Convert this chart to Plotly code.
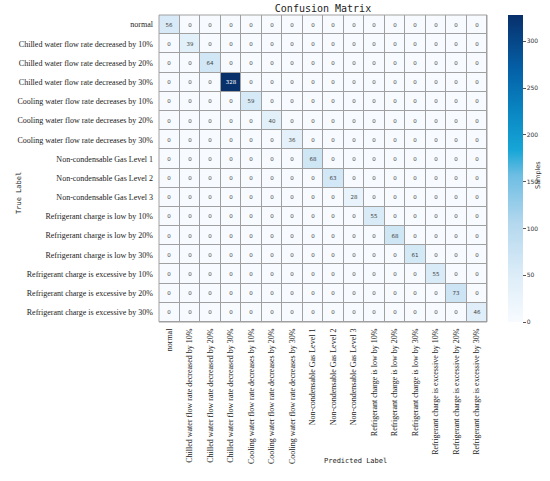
import numpy as np
import plotly.graph_objects as go

# class names (rows = true label, columns = predicted label)
classes = [
    "normal",
    "Chilled water flow rate decreased by 10%",
    "Chilled water flow rate decreased by 20%",
    "Chilled water flow rate decreased by 30%",
    "Cooling water flow rate decreases by 10%",
    "Cooling water flow rate decreases by 20%",
    "Cooling water flow rate decreases by 30%",
    "Non-condensable Gas Level 1",
    "Non-condensable Gas Level 2",
    "Non-condensable Gas Level 3",
    "Refrigerant charge is low by 10%",
    "Refrigerant charge is low by 20%",
    "Refrigerant charge is low by 30%",
    "Refrigerant charge is excessive by 10%",
    "Refrigerant charge is excessive by 20%",
    "Refrigerant charge is excessive by 30%",
]

# correct predictions per class; everything off the diagonal is 0
diag_counts = [56, 39, 64, 328, 59, 40, 36, 68, 63, 28, 55, 68, 61, 55, 73, 46]

cbar_ticks = [0, 50, 100, 150, 200, 250, 300]

cm = np.diag(diag_counts)

blues = [
    [0.0, "#f7fbff"],
    [0.15, "#ddedf8"],
    [0.32, "#b4d8ee"],
    [0.48, "#6cbde3"],
    [0.56, "#16a6d6"],
    [0.68, "#0a88c4"],
    [0.82, "#0461a8"],
    [1.0, "#08306b"],
]

W, H = 550, 481
L, R, T, B = 159, 63, 15, 159
pw, ph = W - L - R, H - T - B

fig = go.Figure()
fig.add_trace(go.Heatmap(
    z=cm,
    x=classes,
    y=classes,
    colorscale=blues,
    zmin=0,
    zmax=max(diag_counts),
    xgap=1,
    ygap=1,
    texttemplate="%{z}",
    textfont=dict(family="DejaVu Sans", size=5.5),
    colorbar=dict(
        tickvals=cbar_ticks,
        ticks="outside",
        ticklen=3,
        tickwidth=0.6,
        tickcolor="#555",
        tickfont=dict(family="DejaVu Sans", size=6, color="#333"),
        thickness=15,
        x=(508 - L) / pw,
        xanchor="left",
        y=0.5,
        yanchor="middle",
        len=1,
        lenmode="fraction",
        xpad=0,
        ypad=0,
        outlinewidth=0,
    ),
))

fig.update_xaxes(
    tickangle=-90,
    tickfont=dict(family="Liberation Serif", size=8, color="#222"),
    showgrid=False,
    zeroline=False,
    ticks="",
    ticklabelstandoff=4,
    automargin=False,
)
fig.update_yaxes(
    autorange="reversed",
    tickfont=dict(family="Liberation Serif", size=8, color="#222"),
    showgrid=False,
    zeroline=False,
    ticks="",
    ticklabelstandoff=5,
    automargin=False,
)

# outer border of the grid
fig.add_shape(type="rect", xref="paper", yref="paper", x0=0, y0=0, x1=1, y1=1,
              line=dict(color="#a0a0a0", width=1))

fig.add_annotation(text="True Label", xref="paper", yref="paper",
                   x=(13 - L) / pw, y=1 - (193 - T) / ph, textangle=-90,
                   showarrow=False, font=dict(family="DejaVu Sans Mono", size=7, color="#222"))
fig.add_annotation(text="Predicted Label", xref="paper", yref="paper",
                   x=(355 - L) / pw, y=1 - (467 - T) / ph,
                   showarrow=False, font=dict(family="DejaVu Sans Mono", size=7, color="#222"))
# colorbar caption
fig.add_annotation(text="Samples", xref="paper", yref="paper",
                   x=(544 - L) / pw, y=1 - (175 - T) / ph, textangle=-90,
                   showarrow=False, font=dict(family="DejaVu Sans", size=6.5, color="#333"))

fig.update_layout(
    width=W,
    height=H,
    margin=dict(l=L, r=R, t=T, b=B, autoexpand=False),
    title=dict(text="Confusion Matrix", x=(323 / W), xanchor="center",
               y=1 - 8 / H, yanchor="middle",
               font=dict(family="DejaVu Sans Mono", size=10, color="#222")),
    plot_bgcolor="#a0a0a0",
    paper_bgcolor="white",
)

# drop the page's default body margin so the figure sits at the window's corner
fig.write_html("out.html", config={"displayModeBar": False},
               post_script="document.body.style.margin='0';")
